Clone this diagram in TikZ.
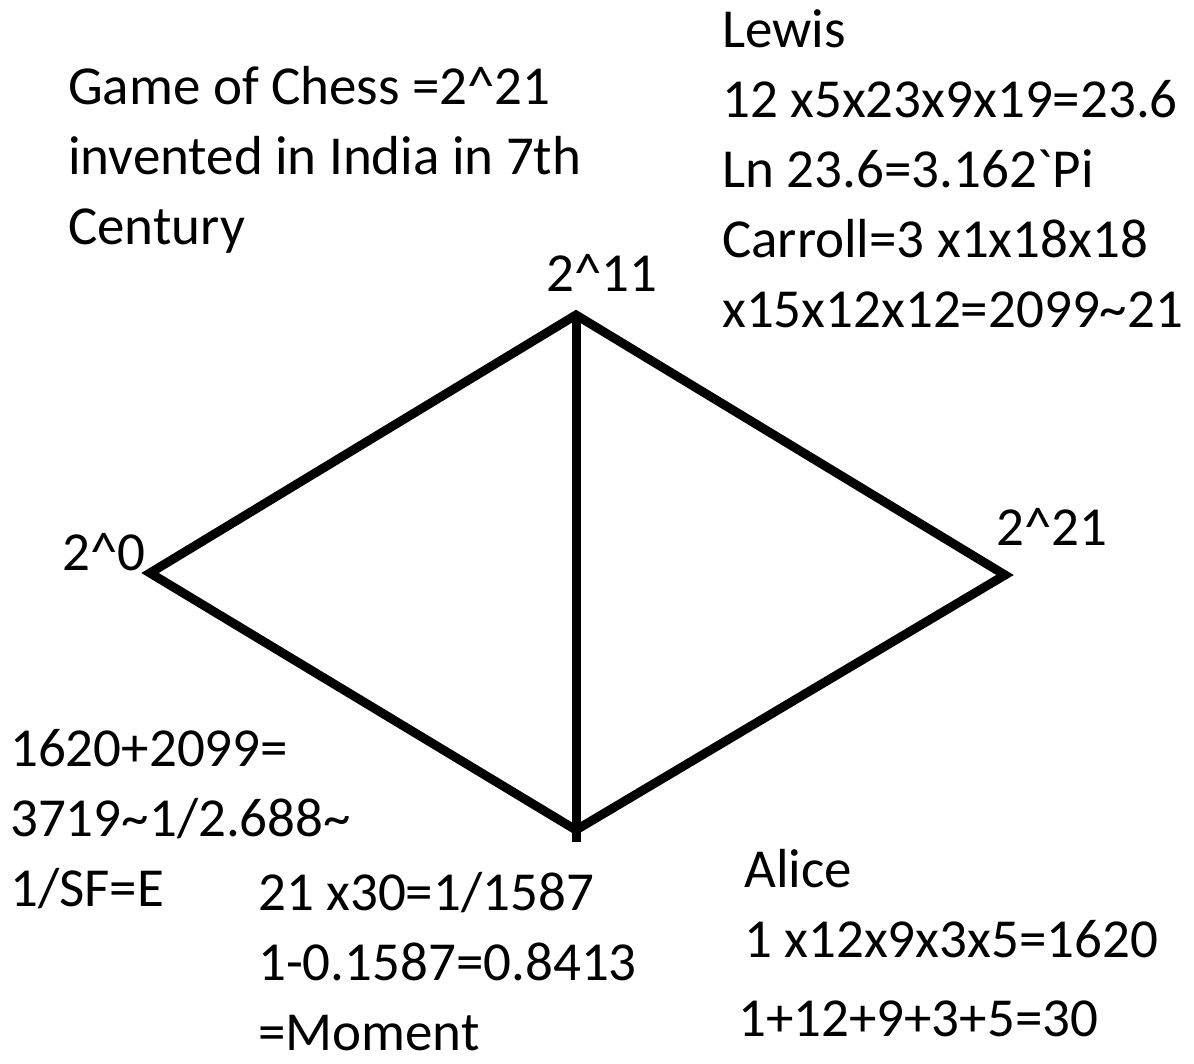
\documentclass[tikz,border=0pt]{standalone}
\usepackage{fontspec}
\setmainfont{Carlito}
\usetikzlibrary{positioning}

\begin{document}
\begin{tikzpicture}[x=1pt, y=-1pt,
        note/.style={anchor=base west, inner sep=0pt, align=left, font=\fontsize{55}{70}\selectfont},
        vertex/.style={anchor=base west, inner sep=0pt, font=\fontsize{55}{70}\selectfont},
        edge/.style={line width=9pt, line join=miter}]

        % Rahmen
        \useasboundingbox (0,0) rectangle (1194,1064);

        % Ecken der Raute
        \coordinate (top) at (576,315);
        \coordinate (left) at (150,573);
        \coordinate (right) at (1005,575);
        \coordinate (bottom) at (576,830);
        \coordinate (stem) at (576,842);

        % Raute und Mittellinie
        \draw[edge] (left) -- (top) -- (right) -- (bottom) -- cycle;
        \draw[edge] (top) -- (stem);

        % Beschriftung der Ecken
        \node[vertex] (ltop) at (546,292) {2\^{}11};
        \node[vertex] (lleft) at (62,570) {2\^{}0};
        \node[vertex] (lright) at (996,545) {2\^{}21};

        % Texte (Anker = Grundlinie der letzten Zeile)
        \node[note] (chess) at (68,245) {Game of Chess =2\^{}21\\invented in India in 7th\\Century};
        \node[note] (lewis) at (722,328) {Lewis\\12 x5x23x9x19=23.6\\Ln 23.6=3.162\textasciigrave Pi\\Carroll=3 x1x18x18\\x15x12x12=2099\textasciitilde 21};
        \node[note] (sum) at (10,906) {1620+2099=\\3719\textasciitilde 1/2.688\textasciitilde\\1/SF=E};
        \node[note] (moment) at (258,1050) {21 x30=1/1587\\1-0.1587=0.8413\\=Moment};
        \node[note] (alice) at (744,957) {Alice\\1 x12x9x3x5=1620};
        \node[note] (alicesum) at (738,1036) {1+12+9+3+5=30};

\end{tikzpicture}
\end{document}
